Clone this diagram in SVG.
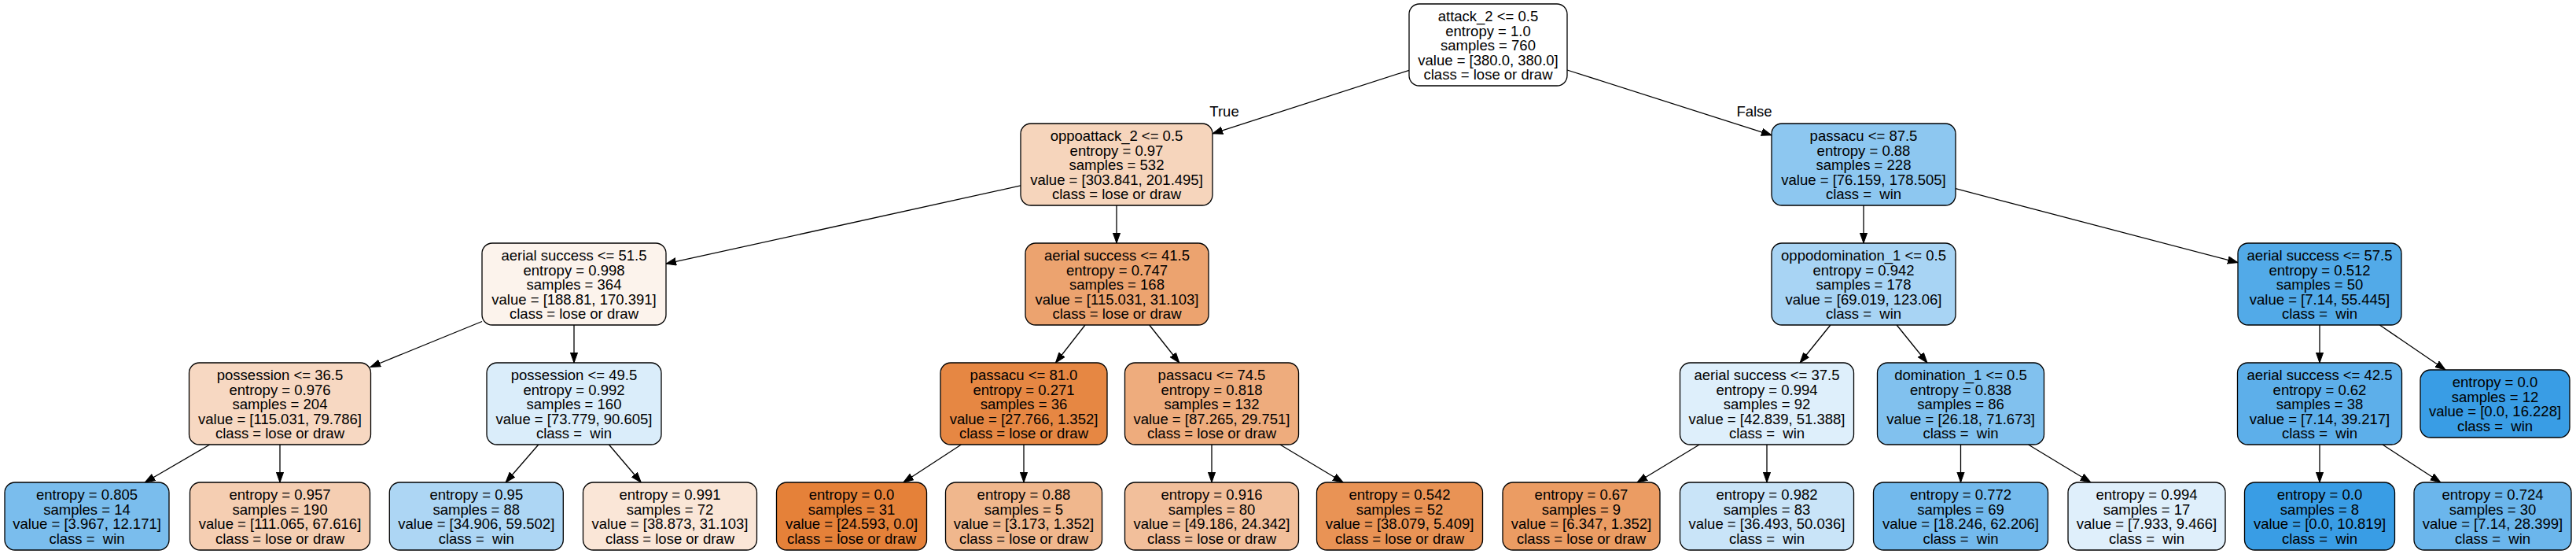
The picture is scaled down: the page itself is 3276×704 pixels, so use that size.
<svg xmlns="http://www.w3.org/2000/svg" width="3276" height="704" viewBox="0 0 3276 704">
<style>
.n rect{stroke:#000;stroke-width:1.3}
text{font-family:"Liberation Sans",Arial,Helvetica,sans-serif;font-size:18.5px;text-anchor:middle;fill:#000}
#edges line{stroke:#000;stroke-width:1.3;marker-end:url(#ah)}
</style>
<defs>
<marker id="ah" markerWidth="14" markerHeight="11" refX="13" refY="5" orient="auto" markerUnits="userSpaceOnUse"><path d="M0,0.4 L13,5 L0,9.6 z" fill="#000" stroke="#000" stroke-width="1"/></marker>
</defs>
<rect width="3276" height="704" fill="#fff"/>
<g id="edges">
<line x1="1792" y1="89.3" x2="1542" y2="169.8"/>
<line x1="1993" y1="89" x2="2253" y2="171.8"/>
<line x1="1298" y1="235.9" x2="847" y2="335.2"/>
<line x1="1420" y1="261" x2="1420" y2="309"/>
<line x1="2370" y1="261" x2="2370" y2="309"/>
<line x1="2487" y1="239.7" x2="2846" y2="333.7"/>
<line x1="613" y1="408.5" x2="471" y2="466.5"/>
<line x1="730" y1="413" x2="730" y2="461"/>
<line x1="1380" y1="413" x2="1342.5" y2="461"/>
<line x1="1461.7" y1="413" x2="1499.8" y2="461"/>
<line x1="2327.9" y1="413" x2="2289.1" y2="461"/>
<line x1="2412.1" y1="413" x2="2450.9" y2="461"/>
<line x1="2950" y1="413" x2="2950" y2="461"/>
<line x1="3026.3" y1="413" x2="3109.9" y2="470"/>
<line x1="266.7" y1="565" x2="184.3" y2="613"/>
<line x1="356" y1="565" x2="356" y2="613"/>
<line x1="684.8" y1="565" x2="643.1" y2="613"/>
<line x1="774.4" y1="565" x2="815.3" y2="613"/>
<line x1="1222.4" y1="565" x2="1148.9" y2="613"/>
<line x1="1302" y1="565" x2="1302" y2="613"/>
<line x1="1541" y1="565" x2="1541" y2="613"/>
<line x1="1627.9" y1="565" x2="1708.1" y2="613"/>
<line x1="2161.2" y1="565" x2="2082" y2="613"/>
<line x1="2247" y1="565" x2="2247" y2="613"/>
<line x1="2493.5" y1="565" x2="2493.5" y2="613"/>
<line x1="2579.5" y1="565" x2="2658.9" y2="613"/>
<line x1="2950" y1="565" x2="2950" y2="613"/>
<line x1="3030" y1="565" x2="3103.8" y2="613"/>
<text x="1557" y="148">True</text>
<text x="2231" y="148">False</text>
</g>
<g id="n0" class="n"><rect x="1792" y="5" width="201" height="104" rx="13" fill="#ffffff"/><text xml:space="preserve" y="27"><tspan x="1892.5">attack_2 &lt;= 0.5</tspan><tspan x="1892.5" dy="18.5">entropy = 1.0</tspan><tspan x="1892.5" dy="18.5">samples = 760</tspan><tspan x="1892.5" dy="18.5">value = [380.0, 380.0]</tspan><tspan x="1892.5" dy="18.5">class = lose or draw</tspan></text></g>
<g id="n1" class="n"><rect x="1298" y="157" width="244" height="104" rx="13" fill="#f6d5bc"/><text xml:space="preserve" y="179"><tspan x="1420">oppoattack_2 &lt;= 0.5</tspan><tspan x="1420" dy="18.5">entropy = 0.97</tspan><tspan x="1420" dy="18.5">samples = 532</tspan><tspan x="1420" dy="18.5">value = [303.841, 201.495]</tspan><tspan x="1420" dy="18.5">class = lose or draw</tspan></text></g>
<g id="n2" class="n"><rect x="2253" y="157" width="234" height="104" rx="13" fill="#8dc7f0"/><text xml:space="preserve" y="179"><tspan x="2370">passacu &lt;= 87.5</tspan><tspan x="2370" dy="18.5">entropy = 0.88</tspan><tspan x="2370" dy="18.5">samples = 228</tspan><tspan x="2370" dy="18.5">value = [76.159, 178.505]</tspan><tspan x="2370" dy="18.5">class =  win</tspan></text></g>
<g id="n3" class="n"><rect x="613" y="309" width="234" height="104" rx="13" fill="#fcf3ec"/><text xml:space="preserve" y="331"><tspan x="730">aerial success &lt;= 51.5</tspan><tspan x="730" dy="18.5">entropy = 0.998</tspan><tspan x="730" dy="18.5">samples = 364</tspan><tspan x="730" dy="18.5">value = [188.81, 170.391]</tspan><tspan x="730" dy="18.5">class = lose or draw</tspan></text></g>
<g id="n4" class="n"><rect x="1304" y="309" width="233" height="104" rx="13" fill="#eca36f"/><text xml:space="preserve" y="331"><tspan x="1420.5">aerial success &lt;= 41.5</tspan><tspan x="1420.5" dy="18.5">entropy = 0.747</tspan><tspan x="1420.5" dy="18.5">samples = 168</tspan><tspan x="1420.5" dy="18.5">value = [115.031, 31.103]</tspan><tspan x="1420.5" dy="18.5">class = lose or draw</tspan></text></g>
<g id="n5" class="n"><rect x="2253" y="309" width="234" height="104" rx="13" fill="#a8d4f4"/><text xml:space="preserve" y="331"><tspan x="2370">oppodomination_1 &lt;= 0.5</tspan><tspan x="2370" dy="18.5">entropy = 0.942</tspan><tspan x="2370" dy="18.5">samples = 178</tspan><tspan x="2370" dy="18.5">value = [69.019, 123.06]</tspan><tspan x="2370" dy="18.5">class =  win</tspan></text></g>
<g id="n6" class="n"><rect x="2846" y="309" width="208" height="104" rx="13" fill="#52aae8"/><text xml:space="preserve" y="331"><tspan x="2950">aerial success &lt;= 57.5</tspan><tspan x="2950" dy="18.5">entropy = 0.512</tspan><tspan x="2950" dy="18.5">samples = 50</tspan><tspan x="2950" dy="18.5">value = [7.14, 55.445]</tspan><tspan x="2950" dy="18.5">class =  win</tspan></text></g>
<g id="n7" class="n"><rect x="240.5" y="461" width="231" height="104" rx="13" fill="#f7d8c2"/><text xml:space="preserve" y="483"><tspan x="356">possession &lt;= 36.5</tspan><tspan x="356" dy="18.5">entropy = 0.976</tspan><tspan x="356" dy="18.5">samples = 204</tspan><tspan x="356" dy="18.5">value = [115.031, 79.786]</tspan><tspan x="356" dy="18.5">class = lose or draw</tspan></text></g>
<g id="n8" class="n"><rect x="619" y="461" width="222" height="104" rx="13" fill="#daedfa"/><text xml:space="preserve" y="483"><tspan x="730">possession &lt;= 49.5</tspan><tspan x="730" dy="18.5">entropy = 0.992</tspan><tspan x="730" dy="18.5">samples = 160</tspan><tspan x="730" dy="18.5">value = [73.779, 90.605]</tspan><tspan x="730" dy="18.5">class =  win</tspan></text></g>
<g id="n9" class="n"><rect x="1196" y="461" width="212" height="104" rx="13" fill="#e68743"/><text xml:space="preserve" y="483"><tspan x="1302">passacu &lt;= 81.0</tspan><tspan x="1302" dy="18.5">entropy = 0.271</tspan><tspan x="1302" dy="18.5">samples = 36</tspan><tspan x="1302" dy="18.5">value = [27.766, 1.352]</tspan><tspan x="1302" dy="18.5">class = lose or draw</tspan></text></g>
<g id="n10" class="n"><rect x="1430.5" y="461" width="221" height="104" rx="13" fill="#eeac7d"/><text xml:space="preserve" y="483"><tspan x="1541">passacu &lt;= 74.5</tspan><tspan x="1541" dy="18.5">entropy = 0.818</tspan><tspan x="1541" dy="18.5">samples = 132</tspan><tspan x="1541" dy="18.5">value = [87.265, 29.751]</tspan><tspan x="1541" dy="18.5">class = lose or draw</tspan></text></g>
<g id="n11" class="n"><rect x="2136.5" y="461" width="221" height="104" rx="13" fill="#deeffb"/><text xml:space="preserve" y="483"><tspan x="2247">aerial success &lt;= 37.5</tspan><tspan x="2247" dy="18.5">entropy = 0.994</tspan><tspan x="2247" dy="18.5">samples = 92</tspan><tspan x="2247" dy="18.5">value = [42.839, 51.388]</tspan><tspan x="2247" dy="18.5">class =  win</tspan></text></g>
<g id="n12" class="n"><rect x="2387.5" y="461" width="212" height="104" rx="13" fill="#81c1ee"/><text xml:space="preserve" y="483"><tspan x="2493.5">domination_1 &lt;= 0.5</tspan><tspan x="2493.5" dy="18.5">entropy = 0.838</tspan><tspan x="2493.5" dy="18.5">samples = 86</tspan><tspan x="2493.5" dy="18.5">value = [26.18, 71.673]</tspan><tspan x="2493.5" dy="18.5">class =  win</tspan></text></g>
<g id="n13" class="n"><rect x="2845.5" y="461" width="209" height="104" rx="13" fill="#5dafea"/><text xml:space="preserve" y="483"><tspan x="2950">aerial success &lt;= 42.5</tspan><tspan x="2950" dy="18.5">entropy = 0.62</tspan><tspan x="2950" dy="18.5">samples = 38</tspan><tspan x="2950" dy="18.5">value = [7.14, 39.217]</tspan><tspan x="2950" dy="18.5">class =  win</tspan></text></g>
<g id="n14" class="n"><rect x="3078" y="470" width="190" height="86" rx="13" fill="#399de5"/><text xml:space="preserve" y="492"><tspan x="3173">entropy = 0.0</tspan><tspan x="3173" dy="18.5">samples = 12</tspan><tspan x="3173" dy="18.5">value = [0.0, 16.228]</tspan><tspan x="3173" dy="18.5">class =  win</tspan></text></g>
<g id="l1" class="n"><rect x="6" y="613" width="209" height="86" rx="13" fill="#7abded"/><text xml:space="preserve" y="635"><tspan x="110.5">entropy = 0.805</tspan><tspan x="110.5" dy="18.5">samples = 14</tspan><tspan x="110.5" dy="18.5">value = [3.967, 12.171]</tspan><tspan x="110.5" dy="18.5">class =  win</tspan></text></g>
<g id="l2" class="n"><rect x="241.5" y="613" width="229" height="86" rx="13" fill="#f5ceb2"/><text xml:space="preserve" y="635"><tspan x="356">entropy = 0.957</tspan><tspan x="356" dy="18.5">samples = 190</tspan><tspan x="356" dy="18.5">value = [111.065, 67.616]</tspan><tspan x="356" dy="18.5">class = lose or draw</tspan></text></g>
<g id="l3" class="n"><rect x="495.3" y="613" width="221" height="86" rx="13" fill="#add6f4"/><text xml:space="preserve" y="635"><tspan x="605.8">entropy = 0.95</tspan><tspan x="605.8" dy="18.5">samples = 88</tspan><tspan x="605.8" dy="18.5">value = [34.906, 59.502]</tspan><tspan x="605.8" dy="18.5">class =  win</tspan></text></g>
<g id="l4" class="n"><rect x="741.5" y="613" width="221" height="86" rx="13" fill="#fae6d7"/><text xml:space="preserve" y="635"><tspan x="852">entropy = 0.991</tspan><tspan x="852" dy="18.5">samples = 72</tspan><tspan x="852" dy="18.5">value = [38.873, 31.103]</tspan><tspan x="852" dy="18.5">class = lose or draw</tspan></text></g>
<g id="l5" class="n"><rect x="987.5" y="613" width="191" height="86" rx="13" fill="#e58139"/><text xml:space="preserve" y="635"><tspan x="1083">entropy = 0.0</tspan><tspan x="1083" dy="18.5">samples = 31</tspan><tspan x="1083" dy="18.5">value = [24.593, 0.0]</tspan><tspan x="1083" dy="18.5">class = lose or draw</tspan></text></g>
<g id="l6" class="n"><rect x="1202.5" y="613" width="199" height="86" rx="13" fill="#f0b78d"/><text xml:space="preserve" y="635"><tspan x="1302">entropy = 0.88</tspan><tspan x="1302" dy="18.5">samples = 5</tspan><tspan x="1302" dy="18.5">value = [3.173, 1.352]</tspan><tspan x="1302" dy="18.5">class = lose or draw</tspan></text></g>
<g id="l7" class="n"><rect x="1430.5" y="613" width="221" height="86" rx="13" fill="#f2bf9b"/><text xml:space="preserve" y="635"><tspan x="1541">entropy = 0.916</tspan><tspan x="1541" dy="18.5">samples = 80</tspan><tspan x="1541" dy="18.5">value = [49.186, 24.342]</tspan><tspan x="1541" dy="18.5">class = lose or draw</tspan></text></g>
<g id="l8" class="n"><rect x="1674.5" y="613" width="211" height="86" rx="13" fill="#e99355"/><text xml:space="preserve" y="635"><tspan x="1780">entropy = 0.542</tspan><tspan x="1780" dy="18.5">samples = 52</tspan><tspan x="1780" dy="18.5">value = [38.079, 5.409]</tspan><tspan x="1780" dy="18.5">class = lose or draw</tspan></text></g>
<g id="l9" class="n"><rect x="1911" y="613" width="200" height="86" rx="13" fill="#eb9c63"/><text xml:space="preserve" y="635"><tspan x="2011">entropy = 0.67</tspan><tspan x="2011" dy="18.5">samples = 9</tspan><tspan x="2011" dy="18.5">value = [6.347, 1.352]</tspan><tspan x="2011" dy="18.5">class = lose or draw</tspan></text></g>
<g id="l10" class="n"><rect x="2136.5" y="613" width="221" height="86" rx="13" fill="#c9e4f8"/><text xml:space="preserve" y="635"><tspan x="2247">entropy = 0.982</tspan><tspan x="2247" dy="18.5">samples = 83</tspan><tspan x="2247" dy="18.5">value = [36.493, 50.036]</tspan><tspan x="2247" dy="18.5">class =  win</tspan></text></g>
<g id="l11" class="n"><rect x="2382.5" y="613" width="222" height="86" rx="13" fill="#73baed"/><text xml:space="preserve" y="635"><tspan x="2493.5">entropy = 0.772</tspan><tspan x="2493.5" dy="18.5">samples = 69</tspan><tspan x="2493.5" dy="18.5">value = [18.246, 62.206]</tspan><tspan x="2493.5" dy="18.5">class =  win</tspan></text></g>
<g id="l12" class="n"><rect x="2630" y="613" width="200" height="86" rx="13" fill="#dfeffb"/><text xml:space="preserve" y="635"><tspan x="2730">entropy = 0.994</tspan><tspan x="2730" dy="18.5">samples = 17</tspan><tspan x="2730" dy="18.5">value = [7.933, 9.466]</tspan><tspan x="2730" dy="18.5">class =  win</tspan></text></g>
<g id="l13" class="n"><rect x="2854.5" y="613" width="191" height="86" rx="13" fill="#399de5"/><text xml:space="preserve" y="635"><tspan x="2950">entropy = 0.0</tspan><tspan x="2950" dy="18.5">samples = 8</tspan><tspan x="2950" dy="18.5">value = [0.0, 10.819]</tspan><tspan x="2950" dy="18.5">class =  win</tspan></text></g>
<g id="l14" class="n"><rect x="3070" y="613" width="200" height="86" rx="13" fill="#6bb6ec"/><text xml:space="preserve" y="635"><tspan x="3170">entropy = 0.724</tspan><tspan x="3170" dy="18.5">samples = 30</tspan><tspan x="3170" dy="18.5">value = [7.14, 28.399]</tspan><tspan x="3170" dy="18.5">class =  win</tspan></text></g>
</svg>
